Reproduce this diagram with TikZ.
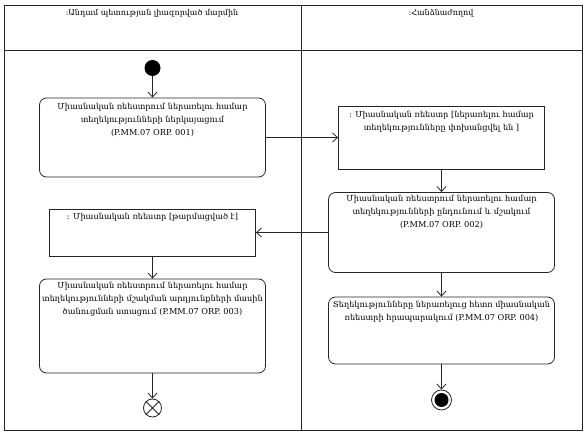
\documentclass[tikz,border=0pt]{standalone}
\usepackage{fontspec}
\setmainfont{DejaVu Serif}
\usetikzlibrary{arrows.meta,calc}
\begin{document}
\begin{tikzpicture}[x=1pt,y=-1pt,
  line/.style={draw=black!85, line width=0.8pt},
  flow/.style={line, -{Straight Barb[length=5pt,width=9pt]}},
  actbox/.style={line, rounded corners=7pt, inner sep=0pt},
  objbox/.style={line, inner sep=0pt},
  txt/.style={anchor=north, align=center, font=\fontsize{8.2}{13}\selectfont, inner sep=0pt},
  hdr/.style={anchor=north, font=\fontsize{8}{9}\selectfont, inner sep=0pt}]
\useasboundingbox (0,0) rectangle (586,435);
% frame
\draw[line] (4,5) rectangle (582,430);
\draw[line] (4,50) -- (582,50);
\draw[line] (301,5) -- (301,430);
\node[hdr] (h1) at (152,9) {:Անդամ պետության լիազորված մարմին};
\node[hdr] (h2) at (441,9) {:Հանձնաժողով};
% initial
\node[circle, fill=black, minimum size=16pt, inner sep=0pt] (init) at (152.5,68) {};
% boxes
\node[actbox, minimum width=226pt, minimum height=79pt] (b1) at (152.5,137.5) {};
\node[txt] (t1) at ($(b1.north)+(0,5)$) {Միասնական ռեեստրում ներառելու համար\\տեղեկությունների ներկայացում\\(P.MM.07 ORP. 001)};
\node[objbox, minimum width=206pt, minimum height=63pt] (b2) at (441.5,137.5) {};
\node[txt] (t2) at ($(b2.north)+(0,5)$) {: Միասնական ռեեստր [ներառելու համար\\տեղեկությունները փոխանցվել են ]};
\node[actbox, minimum width=226pt, minimum height=80pt] (b3) at (441.5,232.5) {};
\node[txt] (t3) at ($(b3.north)+(0,3)$) {Միասնական ռեեստրում ներառելու համար\\տեղեկությունների ընդունում և մշակում\\(P.MM.07 ORP. 002)};
\node[objbox, minimum width=206pt, minimum height=47pt] (b4) at (152.5,232.5) {};
\node[txt] (t4) at ($(b4.north)+(0,4)$) {: Միասնական ռեեստր [թարմացված է]};
\node[actbox, minimum width=226pt, minimum height=94pt] (b5) at (152.5,326) {};
\node[txt] (t5) at ($(b5.north)+(0,3)$) {Միասնական ռեեստրում ներառելու համար\\տեղեկությունների մշակման արդյունքների մասին\\ծանուցման ստացում (P.MM.07 ORP. 003)};
\node[actbox, minimum width=226pt, minimum height=67pt] (b6) at (441.5,330.5) {};
\node[txt] (t6) at ($(b6.north)+(0,4)$) {Տեղեկությունները ներառելուց հետո միասնական\\ռեեստրի հրապարակում (P.MM.07 ORP. 004)};
% flow final
\node[circle, line, minimum size=18pt, inner sep=0pt] (ff) at (152.5,408) {};
\draw[line] (ff.north east) -- (ff.south west) (ff.north west) -- (ff.south east);
% activity final
\node[circle, line, minimum size=20pt, inner sep=0pt] (af) at (441.5,400) {};
\node[circle, fill=black, minimum size=14pt, inner sep=0pt] (afi) at (441.5,400) {};
% flows
\draw[flow] (init) -- (b1.north);
\draw[flow] (b1.east) -- (b2.west);
\draw[flow] (b2.south) -- (b3.north);
\draw[flow] (b3.west) -- (b4.east);
\draw[flow] (b4.south) -- (b5.north);
\draw[flow] (b5.south) -- (ff.north);
\draw[flow] (b3.south) -- (b6.north);
\draw[flow] (b6.south) -- (af.north);
\end{tikzpicture}
\end{document}
